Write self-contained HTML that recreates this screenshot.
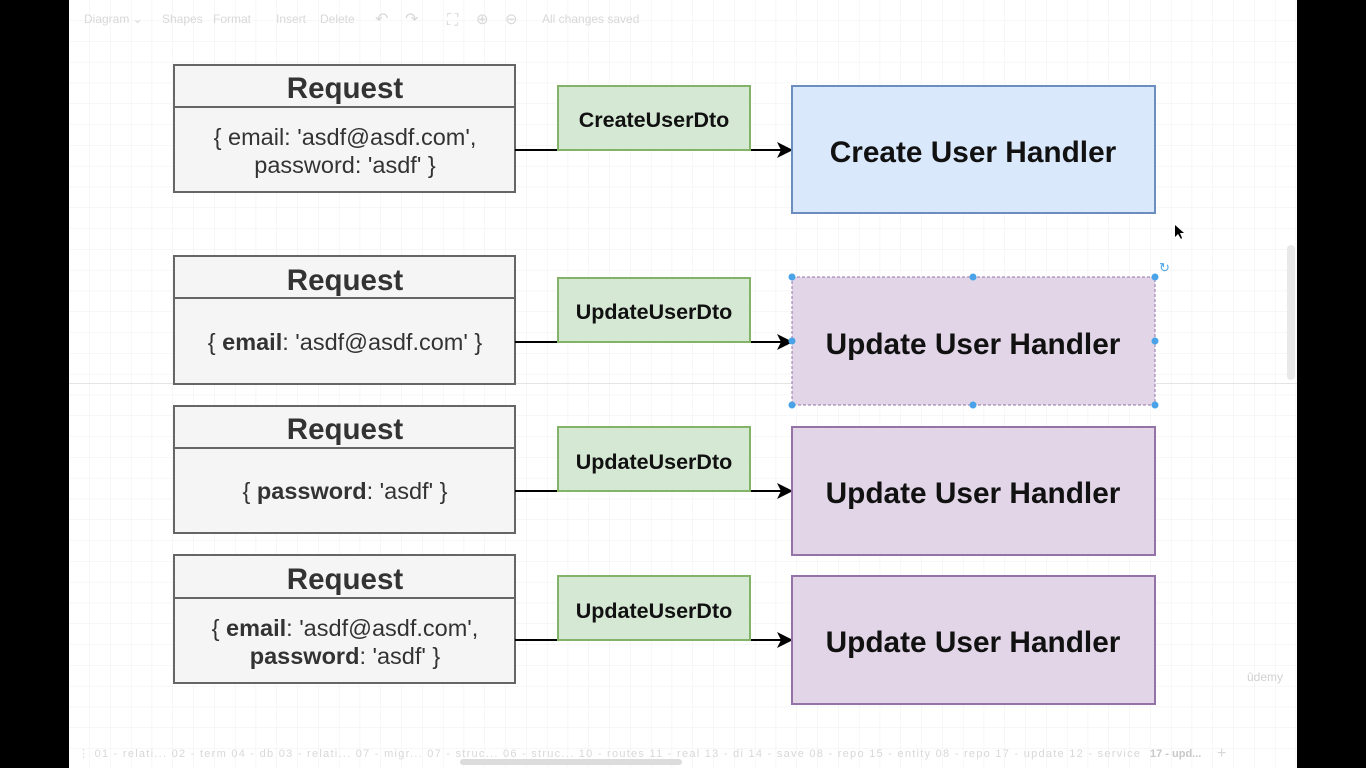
<!DOCTYPE html>
<html><head><meta charset="utf-8"><style>
html,body{margin:0;padding:0;width:1366px;height:768px;overflow:hidden;background:#000}
svg{display:block}
text{font-family:"Liberation Sans",sans-serif}
</style></head><body>
<svg width="1366" height="768" viewBox="0 0 1366 768" xmlns="http://www.w3.org/2000/svg">
<defs>
<pattern id="g" width="20.8" height="20.8" patternUnits="userSpaceOnUse" x="69" y="0">
<path d="M20.8 0V20.8H0" fill="none" stroke="#efefef" stroke-width="1"/>
</pattern>
<marker id="a" markerWidth="16" markerHeight="16" refX="15" refY="8" orient="auto" markerUnits="userSpaceOnUse">
<path d="M0 0L16 8L0 16L4 8Z" fill="#000"/>
</marker>
</defs>
<rect x="69" y="0" width="1228" height="768" fill="#fff"/>
<rect x="69" y="0" width="1228" height="768" fill="url(#g)"/>
<line x1="69" y1="383.5" x2="1297" y2="383.5" stroke="#e4e4e4"/>
<g fill="#d8d8d8" font-size="12">
<text x="84" y="23">Diagram ⌄</text><text x="162" y="23">Shapes</text><text x="213" y="23">Format</text>
<text x="276" y="23">Insert</text><text x="320" y="23">Delete</text>
<text x="375" y="24" font-size="16">↶</text><text x="405" y="24" font-size="16">↷</text>
<text x="447" y="25" font-size="16">⛶</text><text x="476" y="24" font-size="15">⊕</text><text x="505" y="24" font-size="15">⊖</text>
<text x="542" y="23">All changes saved</text>
</g>
<g fill="#d8d8d8" font-size="11">
<text x="78" y="757" textLength="1062" lengthAdjust="spacing">⋮ 01 - relati...  02 - term  04 - db  03 - relati...  07 - migr...  07 - struc...  06 - struc...  10 - routes  11 - real   13 - di   14 - save  08 - repo  15 - entity  08 - repo  17 - update  12 - service</text>
<text x="1150" y="757" font-weight="bold" fill="#c8c8c8">17 - upd...</text>
<text x="1217" y="758" font-size="16">+</text>
</g>
<rect x="460" y="759" width="222" height="6" rx="3" fill="#dcdcdc"/>
<rect x="1287" y="245" width="8" height="135" rx="4" fill="#e8e8e8"/>
<text x="1247" y="681" fill="#d0d0d0" font-size="12">ûdemy</text>

<g stroke-width="2">
<g fill="#f5f5f5" stroke="#666">
<rect x="174" y="65" width="341" height="127"/><line x1="174" y1="107" x2="515" y2="107"/>
<rect x="174" y="256" width="341" height="128"/><line x1="174" y1="298" x2="515" y2="298"/>
<rect x="174" y="406" width="341" height="127"/><line x1="174" y1="448" x2="515" y2="448"/>
<rect x="174" y="555" width="341" height="128"/><line x1="174" y1="598" x2="515" y2="598"/>
</g>
<g stroke="#000">
<line x1="515" y1="150" x2="560" y2="150"/><line x1="750" y1="150" x2="792" y2="150" marker-end="url(#a)"/>
<line x1="515" y1="342" x2="560" y2="342"/><line x1="750" y1="342" x2="792" y2="342" marker-end="url(#a)"/>
<line x1="515" y1="491" x2="560" y2="491"/><line x1="750" y1="491" x2="792" y2="491" marker-end="url(#a)"/>
<line x1="515" y1="640" x2="560" y2="640"/><line x1="750" y1="640" x2="792" y2="640" marker-end="url(#a)"/>
</g>
<g fill="#d5e8d4" stroke="#82b366">
<rect x="558" y="86" width="192" height="64"/>
<rect x="558" y="278" width="192" height="64"/>
<rect x="558" y="427" width="192" height="64"/>
<rect x="558" y="576" width="192" height="64"/>
</g>
<rect x="792" y="86" width="363" height="127" fill="#dae8fc" stroke="#6c8ebf"/>
<rect x="792" y="277" width="363" height="128" fill="#e1d5e7" stroke="#9673a6" stroke-width="1" stroke-dasharray="3 2"/>
<rect x="792" y="427" width="363" height="128" fill="#e1d5e7" stroke="#9673a6"/>
<rect x="792" y="576" width="363" height="128" fill="#e1d5e7" stroke="#9673a6"/>
</g>
<g fill="#4aa3e8">
<circle cx="792" cy="277" r="3.5"/><circle cx="973" cy="277" r="3.5"/><circle cx="1155" cy="277" r="3.5"/>
<circle cx="792" cy="341" r="3.5"/><circle cx="1155" cy="341" r="3.5"/>
<circle cx="792" cy="405" r="3.5"/><circle cx="973" cy="405" r="3.5"/><circle cx="1155" cy="405" r="3.5"/>
</g>
<text x="1159" y="272" fill="#4aa3e8" font-size="13">↻</text>
<path d="M1175 225L1175 237L1178 234L1181 239L1182 238L1180 233L1184 233Z" fill="#000"/>

<g font-weight="bold" fill="#333" font-size="29.5" text-anchor="middle">
<text x="345" y="98">Request</text><text x="345" y="290">Request</text>
<text x="345" y="439">Request</text><text x="345" y="589">Request</text>
</g>
<g fill="#333" font-size="23.5" text-anchor="middle">
<text x="345" y="145">{ email: 'asdf@asdf.com',</text>
<text x="345" y="173">password: 'asdf' }</text>
<text x="345" y="350">{ <tspan font-weight="bold">email</tspan>: 'asdf@asdf.com' }</text>
<text x="345" y="499">{ <tspan font-weight="bold">password</tspan>: 'asdf' }</text>
<text x="345" y="636">{ <tspan font-weight="bold">email</tspan>: 'asdf@asdf.com',</text>
<text x="345" y="664"><tspan font-weight="bold">password</tspan>: 'asdf' }</text>
</g>
<g font-weight="bold" fill="#111" font-size="21.5" text-anchor="middle">
<text x="654" y="127">CreateUserDto</text><text x="654" y="319">UpdateUserDto</text>
<text x="654" y="469">UpdateUserDto</text><text x="654" y="618">UpdateUserDto</text>
</g>
<g font-weight="bold" fill="#111" font-size="29.8" text-anchor="middle">
<text x="973" y="162">Create User Handler</text><text x="973" y="354">Update User Handler</text>
<text x="973" y="503">Update User Handler</text><text x="973" y="652">Update User Handler</text>
</g>
</svg>
</body></html>
